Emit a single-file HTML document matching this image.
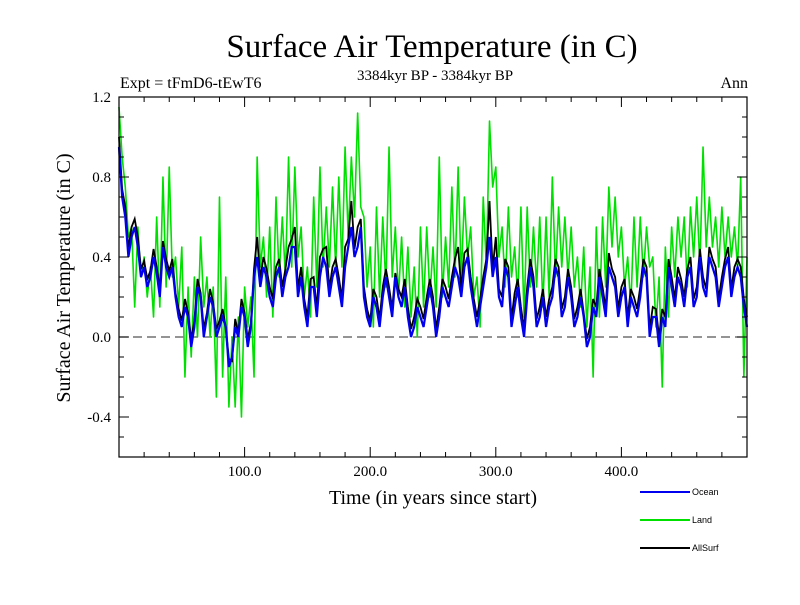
<!DOCTYPE html>
<html><head><meta charset="utf-8"><style>
body{margin:0;background:#fff}
svg text{font-family:"Liberation Serif",serif;fill:#000}
</style></head><body>
<svg id="chart" width="800" height="600" viewBox="0 0 800 600">
<text x="432" y="57" font-size="33" text-anchor="middle">Surface Air Temperature (in C)</text>
<text x="120" y="88" font-size="16">Expt = tFmD6-tEwT6</text>
<text x="435" y="80" font-size="15" text-anchor="middle">3384kyr BP - 3384kyr BP</text>
<text x="748" y="88" font-size="16" text-anchor="end">Ann</text>
<text transform="translate(70,278) rotate(-90)" font-size="20" text-anchor="middle">Surface Air Temperature (in C)</text>
<text x="433" y="504" font-size="20" text-anchor="middle">Time (in years since start)</text>
<g id="plot"></g>
<g id="legend"></g>
</svg>
<script>
const years5 = [];
for (let i = 0; i <= 100; i++) years5.push(i * 5);
const oceanValues = [0.95,0.6,0.5,0.45,0.35,0.3,0.32,0.45,0.3,0.2,0.05,0.1,0.05,0.2,0.1,0.15,0.05,0.05,-0.1,0.0,0.1,0.05,0.4,0.35,0.2,0.3,0.2,0.35,0.45,0.3,0.05,0.25,0.3,0.35,0.3,0.25,0.35,0.55,0.45,0.2,0.05,0.15,0.2,0.2,0.3,0.15,0.1,0.05,0.1,0.15,0.15,0.1,0.2,0.25,0.3,0.35,0.25,0.05,0.25,0.5,0.4,0.15,0.3,0.15,0.1,0.2,0.25,0.1,0.05,0.2,0.3,0.15,0.2,0.1,0.1,0.0,0.1,0.2,0.35,0.25,0.2,0.05,0.15,0.2,0.3,0.1,-0.05,0.05,0.25,0.3,0.15,0.35,0.2,0.25,0.4,0.3,0.25,0.4,0.3,0.3,0.05];
const oceanMid = [0.7,0.4,0.55,0.3,0.25,0.4,0.2,0.35,0.35,0.1,0.15,-0.05,0.25,0.0,0.2,0.0,0.1,-0.15,0.05,0.15,-0.05,0.3,0.25,0.3,0.15,0.35,0.3,0.45,0.2,0.15,0.25,0.1,0.4,0.2,0.35,0.15,0.45,0.4,0.55,0.1,0.2,0.05,0.3,0.1,0.2,0.25,0.0,0.15,0.05,0.25,0.0,0.25,0.15,0.35,0.2,0.4,0.15,0.15,0.35,0.3,0.2,0.35,0.05,0.25,0.0,0.35,0.05,0.2,0.15,0.35,0.1,0.3,0.05,0.2,-0.05,0.15,0.3,0.1,0.3,0.1,0.25,0.2,0.1,0.35,0.0,0.1,0.1,0.35,0.15,0.25,0.3,0.15,0.4,0.2,0.35,0.15,0.35,0.2,0.35,0.15];
const allSurfValues = [1.0,0.65,0.55,0.5,0.38,0.33,0.35,0.48,0.33,0.22,0.08,0.12,0.08,0.22,0.12,0.17,0.08,0.05,-0.12,0.02,0.12,0.07,0.5,0.4,0.25,0.35,0.25,0.45,0.55,0.35,0.1,0.3,0.4,0.45,0.35,0.3,0.45,0.68,0.55,0.25,0.08,0.2,0.25,0.25,0.32,0.2,0.15,0.1,0.15,0.2,0.2,0.15,0.25,0.3,0.45,0.42,0.3,0.1,0.3,0.68,0.5,0.2,0.35,0.22,0.15,0.25,0.3,0.15,0.1,0.25,0.35,0.2,0.25,0.15,0.12,0.05,0.15,0.25,0.42,0.3,0.25,0.1,0.2,0.25,0.35,0.15,0.0,0.1,0.3,0.35,0.2,0.4,0.25,0.3,0.45,0.35,0.3,0.45,0.35,0.35,0.1];
const landHigh = [1.15,0.75,0.55,0.55,0.4,0.35,0.6,0.8,0.85,0.4,0.45,0.25,0.3,0.5,0.3,0.25,0.7,0.3,0.0,0.1,0.25,0.2,0.9,0.5,0.55,0.7,0.6,0.9,0.85,0.55,0.35,0.7,0.85,0.65,0.75,0.8,0.95,0.9,1.12,0.6,0.45,0.65,0.6,0.95,0.55,0.5,0.45,0.35,0.55,0.55,0.45,0.9,0.5,0.75,0.85,0.7,0.55,0.3,0.7,1.08,0.85,0.55,0.65,0.45,0.65,0.65,0.55,0.6,0.6,0.8,0.65,0.6,0.55,0.4,0.45,0.35,0.55,0.6,0.75,0.7,0.55,0.4,0.6,0.6,0.55,0.4,0.3,0.45,0.55,0.6,0.6,0.65,0.7,0.95,0.7,0.6,0.65,0.6,0.55,0.8,0.4];
const landLow = [0.9,0.5,0.15,0.3,0.2,0.1,0.15,0.25,0.3,0.15,-0.2,-0.1,0.0,0.15,0.0,-0.3,-0.2,-0.35,-0.35,-0.4,0.05,-0.2,0.35,0.2,0.1,0.3,0.3,0.35,0.4,0.2,0.1,0.25,0.35,0.35,0.35,0.35,0.5,0.6,0.65,0.25,0.05,0.2,0.25,0.3,0.2,0.15,0.1,0.0,0.15,0.2,0.15,0.2,0.25,0.3,0.3,0.4,0.2,0.05,0.35,0.75,0.4,0.25,0.3,0.2,0.1,0.25,0.25,0.15,0.2,0.3,0.35,0.3,0.25,0.15,0.05,-0.2,0.1,0.25,0.45,0.4,0.25,0.15,0.25,0.3,0.35,0.05,-0.25,0.1,0.3,0.4,0.25,0.4,0.35,0.45,0.45,0.35,0.4,0.4,0.35,-0.2,0.2];
const xTicks = [100,200,300,400];
const xTickLabels = ["100.0","200.0","300.0","400.0"];
const yTicks = [-0.4,0.0,0.4,0.8,1.2];
const yTickLabels = ["-0.4","0.0","0.4","0.8","1.2"];

const L=119,R=747,T=97,B=457;
const xS = v => L + (v-0)/(500-0)*(R-L);
const yS = v => 337 - v*200;
const NS="http://www.w3.org/2000/svg";
const plot=document.getElementById('plot');
function mk(tag,attrs,parent){const e=document.createElementNS(NS,tag);for(const k in attrs)e.setAttribute(k,attrs[k]);(parent||plot).appendChild(e);return e;}

const zl=mk('line',{x1:L,x2:R,y1:yS(0),y2:yS(0),stroke:'#555','stroke-width':1.3,'stroke-dasharray':'9,5'});



function pairPts(a,b){
  let p=[];
  for(let i=0;i<years5.length;i++){
    p.push(xS(years5[i])+','+yS(a[i]));
    if(i<years5.length-1) p.push(xS(years5[i]+2.5)+','+yS(b[i]));
  }
  return p.join(' ');
}

const land=mk('polyline',{points:pairPts(landHigh,landLow),fill:'none',stroke:'#00e000','stroke-width':1.6,'stroke-linejoin':'round'});



const allMid = oceanMid.map(v=>v+0.04);
const all=mk('polyline',{points:pairPts(allSurfValues,allMid),fill:'none',stroke:'#000','stroke-width':1.8});



const oc=mk('polyline',{points:pairPts(oceanValues,oceanMid),fill:'none',stroke:'#0000ee','stroke-width':2.2});



const frame=mk('rect',{x:L,y:T,width:R-L,height:B-T,fill:'none',stroke:'#000','stroke-width':1.2});



for(let v=20;v<500;v+=20){
  const big=v%100===0, len=big?10:5;
  mk('line',{x1:xS(v),x2:xS(v),y1:B,y2:B-len,stroke:'#000'});
  mk('line',{x1:xS(v),x2:xS(v),y1:T,y2:T+len,stroke:'#000'});
}
for(let k=-5;k<=11;k++){
  const v=k/10,big=(k%4===0),len=big?10:5;
  mk('line',{x1:L,x2:L+len,y1:yS(v),y2:yS(v),stroke:'#000'});
  mk('line',{x1:R,x2:R-len,y1:yS(v),y2:yS(v),stroke:'#000'});
}
xTicks.forEach((v,i)=>{
  const t=mk('text',{x:xS(v),y:B+19,'font-size':15,'text-anchor':'middle'});
  t.textContent=xTickLabels[i];
  
  
});
yTicks.forEach((v,i)=>{
  const t=mk('text',{x:L-8,y:yS(v)+5,'font-size':15,'text-anchor':'end'});
  t.textContent=yTickLabels[i];
  
  
});

const legendNames=["Ocean","Land","AllSurf"];
const legendColors=["#0000ee","#00e000","#000"];
const lg=document.getElementById('legend');
legendNames.forEach((n,i)=>{
  const y=492+i*28;
  const g=mk('g',{},lg);
  
  
  mk('line',{x1:640,x2:690,y1:y,y2:y,stroke:legendColors[i],'stroke-width':2},g);
  const t=mk('text',{x:692,y:y+3,'font-size':9,style:'font-family:"Liberation Sans",sans-serif'},g);
  t.textContent=n;
});
</script>
</body></html>
